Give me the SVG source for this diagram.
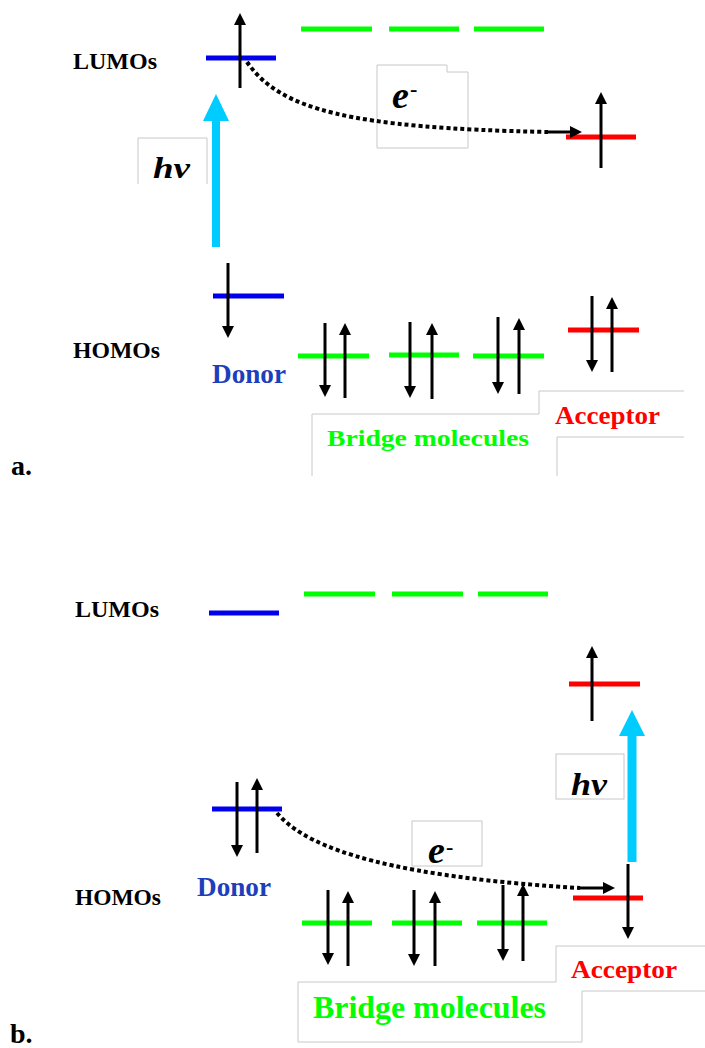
<svg xmlns="http://www.w3.org/2000/svg" width="705" height="1048" viewBox="0 0 705 1048">
<style>
.t{font-family:"Liberation Serif","Times New Roman",serif;font-weight:bold}
.it{font-family:"Liberation Serif","Times New Roman",serif;font-weight:bold;font-style:italic;fill:#000}
.lvl{stroke-width:5;fill:none}
.blue{stroke:#0000ee}
.green{stroke:#00ff00}
.red{stroke:#ff0000}
.spin{stroke:#000;stroke-width:3;fill:none;marker-end:url(#ah)}
.dot{stroke:#000;stroke-width:4;stroke-dasharray:4 3;fill:none}
.box{stroke:#c8c8c8;stroke-width:1;fill:none}
.hv{fill:#00ccff}
</style>
<defs>
<marker id="ah" markerUnits="userSpaceOnUse" markerWidth="13" markerHeight="12" refX="1" refY="6" orient="auto">
<path d="M0,0 L12,6 L0,12 z" fill="#000"/>
</marker>
</defs>
<rect width="705" height="1048" fill="#fff"/>

<!-- Panel a -->
<g id="a-labels">
<text class="t" x="73" y="69" font-size="23" textLength="84" lengthAdjust="spacingAndGlyphs">LUMOs</text>
<text class="t" x="73" y="358" font-size="24" textLength="87" lengthAdjust="spacingAndGlyphs">HOMOs</text>
<text class="t" x="11" y="475" font-size="28">a.</text>
</g>
<g id="a-boxes">
<path class="box" d="M138,184 V138 H207 V184"/>
<path class="box" d="M377,148 V65 H447 V72 H468 V148 Z"/>
<path class="box" d="M312,476 V414 H539"/>
<path class="box" d="M539,414 V391 H684"/>
<path class="box" d="M684,437 H557 V476"/>
</g>
<g id="a-donor">
<line class="lvl blue" x1="206" y1="58" x2="276" y2="58"/>
<line class="lvl blue" x1="213" y1="296" x2="284" y2="296"/>
<line class="spin" x1="240" y1="88" x2="240" y2="24"/>
<line class="spin" x1="228" y1="263" x2="228" y2="327"/>
<text class="t" x="212" y="383" font-size="27" fill="#1d3fbb" textLength="74" lengthAdjust="spacingAndGlyphs">Donor</text>
</g>
<g id="a-bridge">
<line class="lvl green" x1="301" y1="29" x2="372" y2="29"/>
<line class="lvl green" x1="389" y1="29" x2="459" y2="29"/>
<line class="lvl green" x1="474" y1="29" x2="544" y2="29"/>
<line class="lvl green" x1="298" y1="356" x2="369" y2="356"/>
<line class="lvl green" x1="389" y1="355" x2="459" y2="355"/>
<line class="lvl green" x1="473" y1="356" x2="544" y2="356"/>
<line class="spin" x1="325" y1="323" x2="325" y2="386"/>
<line class="spin" x1="345" y1="398" x2="345" y2="334"/>
<line class="spin" x1="410" y1="322" x2="410" y2="387"/>
<line class="spin" x1="432" y1="399" x2="432" y2="334"/>
<line class="spin" x1="498" y1="317" x2="498" y2="383"/>
<line class="spin" x1="519" y1="394" x2="519" y2="329"/>
<text class="t" x="327" y="446" font-size="24" fill="#00ff00" textLength="202" lengthAdjust="spacingAndGlyphs">Bridge molecules</text>
</g>
<g id="a-acceptor">
<line class="lvl red" x1="566" y1="137" x2="636" y2="137"/>
<line class="lvl red" x1="568" y1="330" x2="639" y2="330"/>
<line class="spin" x1="601" y1="168" x2="601" y2="103"/>
<line class="spin" x1="592" y1="296" x2="592" y2="361"/>
<line class="spin" x1="612" y1="372" x2="612" y2="308"/>
<text class="t" x="555" y="424" font-size="25" fill="#ff0000" textLength="105" lengthAdjust="spacingAndGlyphs">Acceptor</text>
</g>
<g id="a-excitation">
<path class="hv" d="M212,247 V121 H203 L216,94 L229,121 H220 V247 Z"/>
<text class="it" x="153" y="178" font-size="30" textLength="37" lengthAdjust="spacingAndGlyphs">hv</text>
</g>
<g id="a-connectors">
<path class="dot" d="M247,62 C280,110 350,128 548,132"/>
<line class="spin" x1="548" y1="132" x2="571" y2="132"/>
<text class="it" x="392" y="108" font-size="38">e</text>
<text class="t" x="410" y="96" font-size="22">-</text>
</g>

<!-- Panel b -->
<g id="b-labels">
<text class="t" x="75" y="617" font-size="23" textLength="84" lengthAdjust="spacingAndGlyphs">LUMOs</text>
<text class="t" x="75" y="905" font-size="24" textLength="86" lengthAdjust="spacingAndGlyphs">HOMOs</text>
<text class="t" x="10" y="1043" font-size="28">b.</text>
</g>
<g id="b-boxes">
<rect class="box" x="556" y="754" width="68" height="45"/>
<rect class="box" x="412" y="821" width="70" height="45"/>
<path class="box" d="M556,982 V946 H705"/>
<path class="box" d="M705,991 H582"/>
<path class="box" d="M556,982 H298 V1042 H582 V991"/>
</g>
<g id="b-donor">
<line class="lvl blue" x1="209" y1="613" x2="279" y2="613"/>
<line class="lvl blue" x1="212" y1="809" x2="282" y2="809"/>
<line class="spin" x1="237" y1="782" x2="237" y2="846"/>
<line class="spin" x1="257" y1="853" x2="257" y2="789"/>
<text class="t" x="197" y="896" font-size="27" fill="#1d3fbb" textLength="74" lengthAdjust="spacingAndGlyphs">Donor</text>
</g>
<g id="b-bridge">
<line class="lvl green" x1="304" y1="594" x2="375" y2="594"/>
<line class="lvl green" x1="392" y1="594" x2="463" y2="594"/>
<line class="lvl green" x1="478" y1="594" x2="548" y2="594"/>
<line class="lvl green" x1="302" y1="923" x2="372" y2="923"/>
<line class="lvl green" x1="392" y1="923" x2="462" y2="923"/>
<line class="lvl green" x1="477" y1="923" x2="547" y2="923"/>
<line class="spin" x1="328" y1="890" x2="328" y2="954"/>
<line class="spin" x1="348" y1="966" x2="348" y2="902"/>
<line class="spin" x1="414" y1="890" x2="414" y2="955"/>
<line class="spin" x1="435" y1="966" x2="435" y2="902"/>
<line class="spin" x1="503" y1="885" x2="503" y2="950"/>
<line class="spin" x1="523" y1="961" x2="523" y2="895"/>
<text class="t" x="313" y="1018" font-size="31" fill="#00ff00" textLength="233" lengthAdjust="spacingAndGlyphs">Bridge molecules</text>
</g>
<g id="b-acceptor">
<line class="lvl red" x1="569" y1="684" x2="640" y2="684"/>
<line class="lvl red" x1="573" y1="898" x2="643" y2="898"/>
<line class="spin" x1="592" y1="721" x2="592" y2="657"/>
<line class="spin" x1="628" y1="864" x2="628" y2="928"/>
<text class="t" x="571" y="978" font-size="25" fill="#ff0000" textLength="106" lengthAdjust="spacingAndGlyphs">Acceptor</text>
</g>
<g id="b-excitation">
<path class="hv" d="M627.5,862 V736 H619 L632,710 L645,736 H636.5 V862 Z"/>
<text class="it" x="571" y="795" font-size="32" textLength="36" lengthAdjust="spacingAndGlyphs">hv</text>
</g>
<g id="b-connectors">
<path class="dot" d="M277,813 C300,840 360,875 580,888"/>
<line class="spin" x1="580" y1="888" x2="604" y2="888"/>
<text class="it" x="428" y="863" font-size="38">e</text>
<text class="t" x="446" y="854" font-size="22">-</text>
</g>
</svg>
